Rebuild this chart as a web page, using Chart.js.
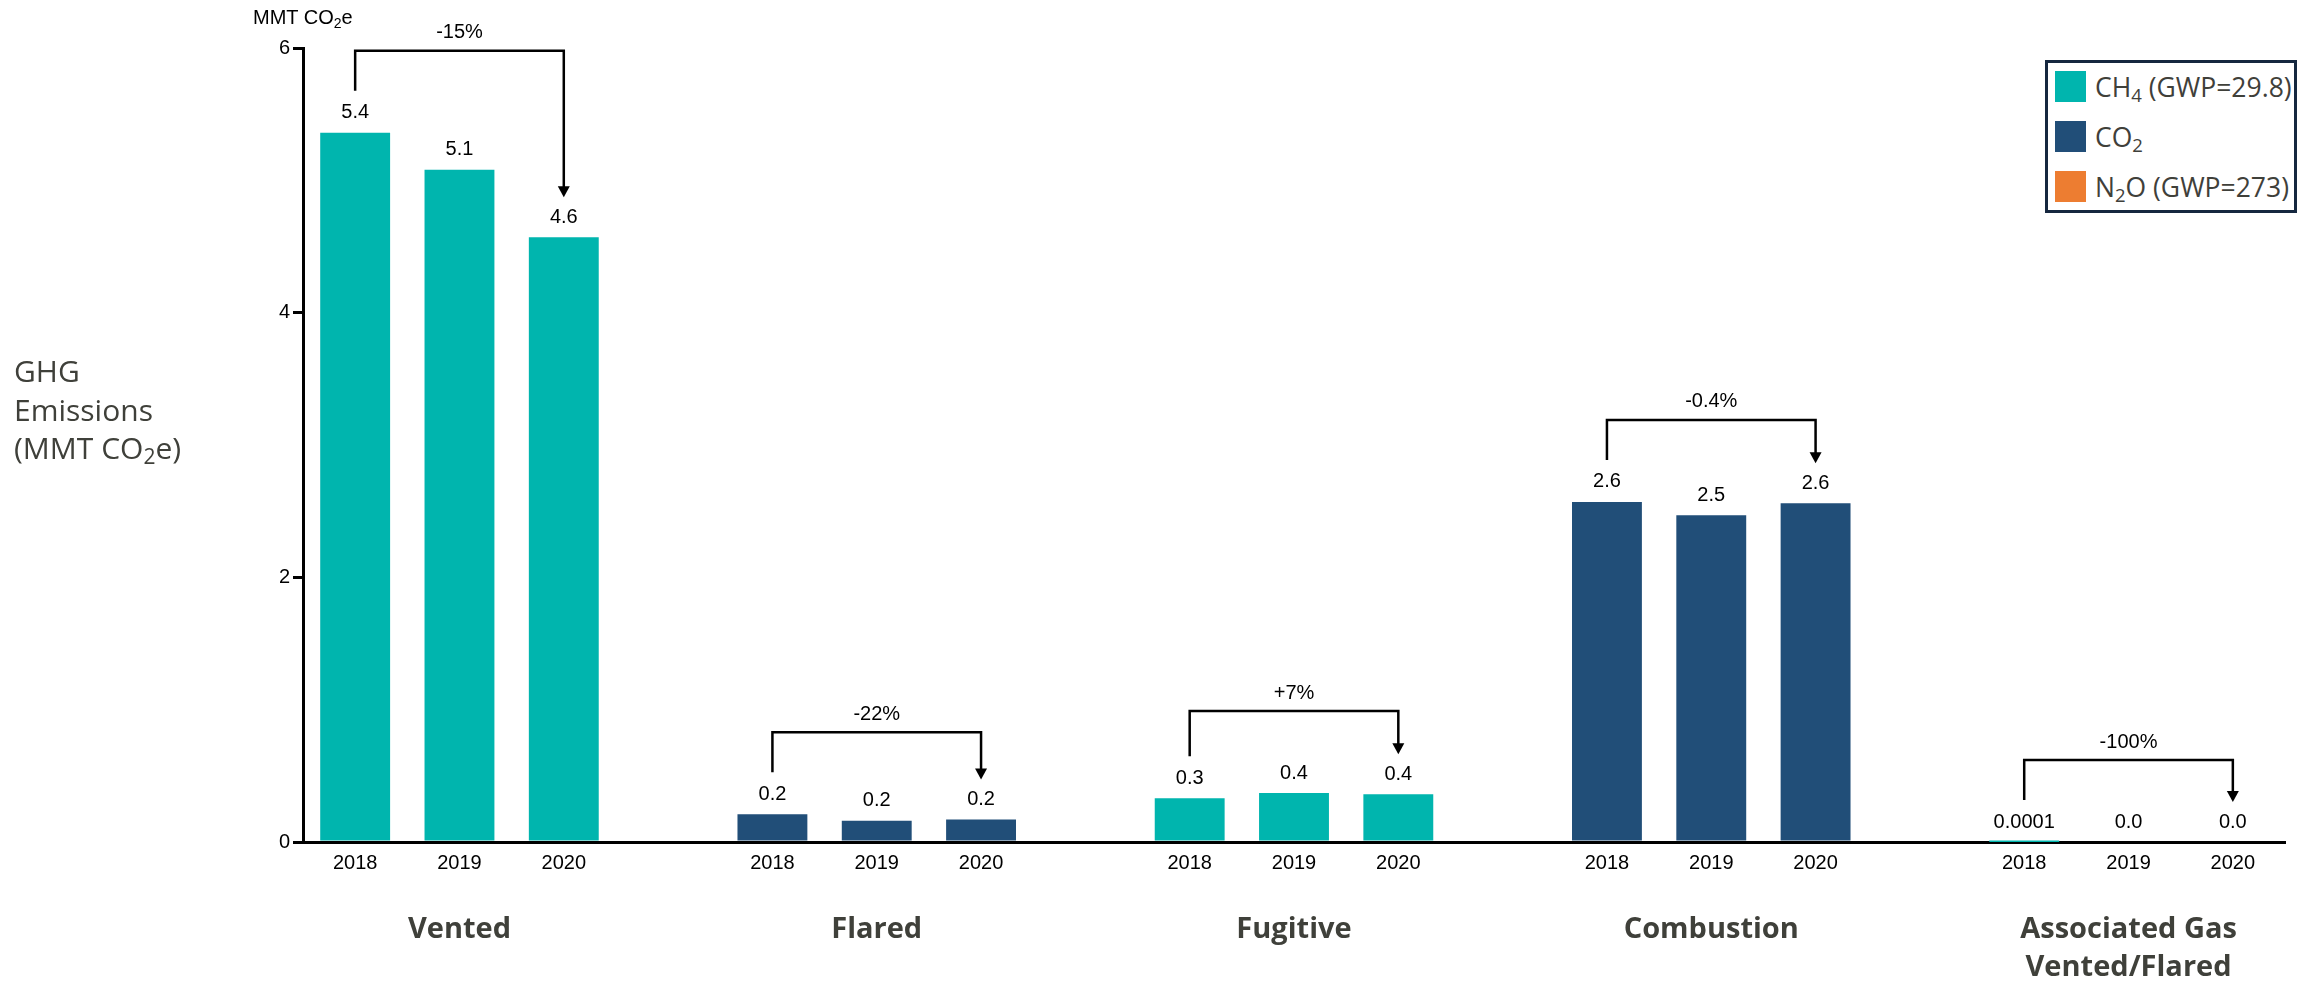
<!DOCTYPE html>
<html>
<head>
<meta charset="utf-8">
<script src="https://cdn.jsdelivr.net/npm/chart.js@4.4.1/dist/chart.umd.min.js"></script>
<style>
  body { margin: 0; background: #fff; }
  #wrap { position: relative; width: 2305px; height: 984px; }
  .ov { position: absolute; white-space: nowrap; }
  sub { font-size: 70%; vertical-align: -0.25em; line-height: 0; }
  #unit { left: 253px; top: 6px; font: 20px "Liberation Sans", Arial, sans-serif; color: #000; }
  #ytitle { left: 14px; top: 352px; font: 30px "Open Sans", sans-serif; color: #3f403a; line-height: 38.5px; }
  #legend { left: 2045px; top: 60px; width: 246px; height: 147px; border: 3px solid #15273f; background: #fff; }
  .item { position: absolute; left: 7px; height: 31px; display: flex; align-items: center;
          font: 26.5px "Open Sans", sans-serif; color: #3f403a; }
  .sw { width: 31px; height: 31px; margin-right: 9px; flex: none; }
</style>
</head>
<body>
<div id="wrap">
  <canvas id="myChart"></canvas>
  <div class="ov" id="unit">MMT CO<sub>2</sub>e</div>
  <div class="ov" id="ytitle">GHG<br>Emissions<br>(MMT CO<sub>2</sub>e)</div>
  <div class="ov" id="legend"></div>
</div>
<script>
// data
var years = ['2018', '2019', '2020'];
var groups = ['Vented', 'Flared', 'Fugitive', 'Combustion', ['Associated Gas', 'Vented/Flared']];
var groupGas = ['CH4', 'CO2', 'CH4', 'CO2', 'CH4'];
var vented = [5.36, 5.08, 4.57];
var flared = [0.21, 0.16, 0.17];
var fugitive = [0.33, 0.37, 0.36];
var combustion = [2.57, 2.47, 2.56];
var associatedGas = [0.0001, 0, 0];
var changes = ['-15%', '-22%', '+7%', '-0.4%', '-100%'];
var yTicks = [0, 2, 4, 6];

var gases = ['CH4', 'CO2', 'N2O'];
var gasNames = ['CH<sub>4</sub> (GWP=29.8)', 'CO<sub>2</sub>', 'N<sub>2</sub>O (GWP=273)'];
var gasColors = ['#00b5ae', '#214e78', '#ed7d31'];

var seriesByGroup = [vented, flared, fugitive, combustion, associatedGas];

// one slot per year, one empty slot between groups
var labels = [];
groups.forEach(function (g, gi) {
    years.forEach(function (yr) { labels.push(yr); });
    if (gi < groups.length - 1) labels.push('');
});

var datasets = gases.map(function (gas, k) {
    var data = labels.map(function () { return null; });
    seriesByGroup.forEach(function (vals, gi) {
        if (groupGas[gi] != gas) return;
        vals.forEach(function (v, i) { data[gi * 4 + i] = v; });
    });
    return {
        label: gas,
        data: data,
        backgroundColor: gasColors[k],
        borderWidth: 0,
        categoryPercentage: 1,
        barPercentage: 0.67
    };
});

function fmt(v) {
    return (v !== 0 && v < 0.01) ? String(v) : v.toFixed(1);
}

// legend (html so the subscripts are real)
var leg = document.getElementById('legend');
gasNames.forEach(function (name, k) {
    var d = document.createElement('div');
    d.className = 'item';
    d.style.top = (8 + k * 50) + 'px';
    d.innerHTML = '<span class="sw" style="background:' + gasColors[k] + '"></span><span>' + name + '</span>';
    leg.appendChild(d);
});

var annot = {
    id: 'annot',
    afterDatasetsDraw: function (chart) {
        var ctx = chart.ctx, x = chart.scales.x, y = chart.scales.y;
        ctx.save();
        ctx.textAlign = 'center';
        ctx.textBaseline = 'middle';
        ctx.fillStyle = '#000';
        ctx.strokeStyle = '#000';
        seriesByGroup.forEach(function (vals, gi) {
            var base = gi * 4;
            var ly = vals.map(function (v) { return y.getPixelForValue(v) - 20; });
            ctx.font = '20px "Liberation Sans", Arial, sans-serif';
            vals.forEach(function (v, i) {
                ctx.fillText(fmt(v), x.getPixelForValue(base + i), ly[i]);
            });
            // bracket with arrow from first to last year
            var x0 = x.getPixelForValue(base);
            var x1 = x.getPixelForValue(base + 1);
            var x2 = x.getPixelForValue(base + 2);
            var top = Math.min.apply(null, ly) - 62;
            var yStart = ly[0] - 22;
            var yTip = ly[2] - 20;
            ctx.lineWidth = 2.5;
            ctx.beginPath();
            ctx.moveTo(x0, yStart);
            ctx.lineTo(x0, top);
            ctx.lineTo(x2, top);
            ctx.lineTo(x2, yTip - 10);
            ctx.stroke();
            ctx.beginPath();
            ctx.moveTo(x2 - 6, yTip - 11);
            ctx.lineTo(x2 + 6, yTip - 11);
            ctx.lineTo(x2, yTip);
            ctx.closePath();
            ctx.fill();
            ctx.fillText(changes[gi], x1, top - 18);

            // group name under the years
            ctx.font = 'bold 29px "Open Sans", sans-serif';
            ctx.fillStyle = '#3f403a';
            var names = Array.isArray(groups[gi]) ? groups[gi] : [groups[gi]];
            names.forEach(function (n, j) {
                ctx.fillText(n, x1, 930 + j * 38);
            });
            ctx.fillStyle = '#000';
        });
        ctx.restore();
    }
};

var ctx = document.getElementById('myChart').getContext('2d');
var myChart = new Chart(ctx, {
    type: 'bar',
    data: { labels: labels, datasets: datasets },
    options: {
        responsive: true,
        maintainAspectRatio: false,
        animation: false,
        devicePixelRatio: 1,
        layout: { padding: { top: 48, right: 20, bottom: 0, left: 0 } },
        plugins: {
            legend: { display: false },
            tooltip: { enabled: false }
        },
        scales: {
            x: {
                stacked: true,
                afterFit: function (s) { s.height = 142; },
                grid: { display: true, drawOnChartArea: false, drawTicks: false },
                border: { display: true, color: '#000', width: 3 },
                ticks: {
                    color: '#000',
                    padding: 9,
                    maxRotation: 0,
                    autoSkip: false,
                    font: { family: '"Liberation Sans", Arial, sans-serif', size: 20 }
                }
            },
            y: {
                stacked: true,
                min: 0,
                max: 6,
                afterFit: function (s) { s.width = 303; },
                afterBuildTicks: function (s) {
                    s.ticks = yTicks.map(function (v) { return { value: v }; });
                },
                grid: { drawOnChartArea: false, drawTicks: true, tickLength: 10, color: '#000', lineWidth: 3 },
                border: { display: true, color: '#000', width: 3 },
                ticks: {
                    color: '#000',
                    padding: 3,
                    font: { family: '"Liberation Sans", Arial, sans-serif', size: 20 }
                }
            }
        }
    },
    plugins: [annot]
});
</script>
</body>
</html>
